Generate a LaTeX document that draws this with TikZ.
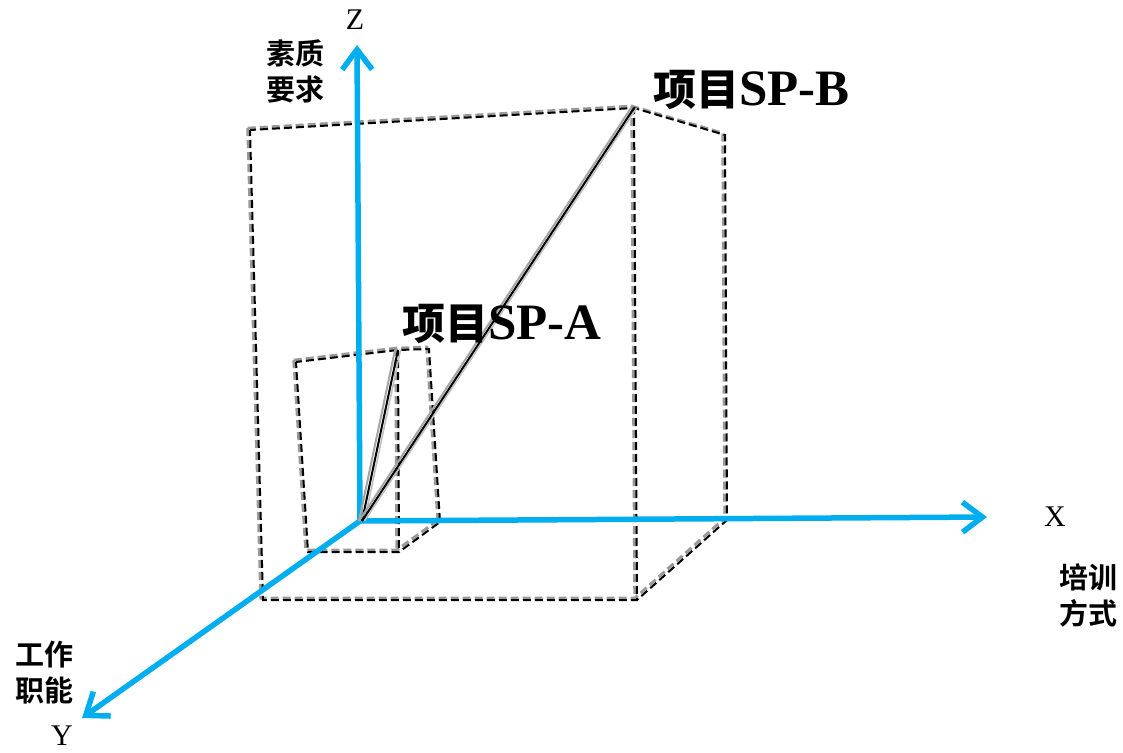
\documentclass[tikz,border=0pt]{standalone}
\usepackage{fontspec}
\setmainfont{Liberation Serif}
\newfontfamily\cjkb{Noto Sans CJK SC Bold}
\usetikzlibrary{arrows.meta}
\definecolor{axcyan}{RGB}{0,174,239}
\tikzset{
  axis/.style={draw=axcyan,line width=5.5pt,-{Straight Barb[length=20pt,width=30pt,line width=5.5pt]}},
  dashgray/.style={draw=black!40,line width=3pt,dash pattern=on 8pt off 4pt},
  dashblack/.style={draw=black,line width=2pt,dash pattern=on 8pt off 4pt,dash phase=2pt},
  vecgray/.style={draw=black!35,line width=2pt},
  vecblack/.style={draw=black,line width=2pt},
  cjklab/.style={font=\cjkb\fontsize{29}{36}\selectfont,align=left,inner sep=0pt},
  axlab/.style={font=\fontsize{30}{30}\selectfont,inner sep=0pt},
  projlab/.style={font=\fontsize{51}{51}\selectfont\bfseries,inner sep=0pt}
}
\newcommand{\dashedge}[1]{%
  \begin{scope}[transform canvas={shift={(-2.2pt,1.8pt)}}]\draw[dashgray] #1;\end{scope}
  \draw[dashblack] #1;}
\begin{document}
\begin{tikzpicture}[x=1pt,y=-1pt]
\useasboundingbox (0,0) rectangle (1123,752);
% coordinates
\coordinate (O) at (360,521);
\coordinate (V0) at (362,521);
\coordinate (Zt) at (357,45);
\coordinate (Xt) at (987,517);
\coordinate (Yt) at (82,718);
% big box
\coordinate (B1) at (250,130);
\coordinate (B2) at (634,108);
\coordinate (B3) at (725,135);
\coordinate (B4) at (727,520);
\coordinate (B5) at (637,600);
\coordinate (B6) at (263,600);
% small box
\coordinate (S1) at (296,362);
\coordinate (S2) at (398,350);
\coordinate (S3) at (429,349);
\coordinate (S4) at (440,522);
\coordinate (S5) at (399,552);
\coordinate (S6) at (308,552);
% dashed boxes
\dashedge{(B1) -- (B2) -- (B3) -- (B4)}
\dashedge{(B1) -- (B6) -- (B5) -- (B4)}
\dashedge{(B2) -- (B5)}
\dashedge{(S1) -- (S2) -- (S3) -- (S4)}
\dashedge{(S1) -- (S6) -- (S5) -- (S4)}
\dashedge{(S2) -- (S5)}
% axes
\draw[axis] (O) -- (Zt);
\draw[axis] (O) -- (Xt);
\draw[axis] (O) -- (Yt);
% vectors
\foreach \e in {S2,B2}{
  \begin{scope}[transform canvas={shift={(-3pt,0pt)}}]\draw[vecgray] (V0) -- (\e);\end{scope}
  \begin{scope}[transform canvas={shift={(2.5pt,0pt)}}]\draw[vecgray,draw=black!25,line width=1.5pt] (V0) -- (\e);\end{scope}
  \draw[vecblack] (V0) -- (\e);
}
% labels
\node[axlab] (lz) at (355,20) {Z};
\node[axlab] (lx) at (1055,517) {X};
\node[axlab] (ly) at (62,736) {Y};
\node[cjklab] (lzq) at (295,71) {素质\\要求};
\node[cjklab] (lxq) at (1088,595) {培训\\方式};
\node[cjklab] (lyq) at (45,673) {工作\\职能};
\node[projlab,anchor=west] (pb) at (653,90) {{\cjkb\fontsize{43}{43}\selectfont 项目}SP-B};
\node[projlab,anchor=west] (pa) at (402,324) {{\cjkb\fontsize{43}{43}\selectfont 项目}SP-A};
\end{tikzpicture}
\end{document}
